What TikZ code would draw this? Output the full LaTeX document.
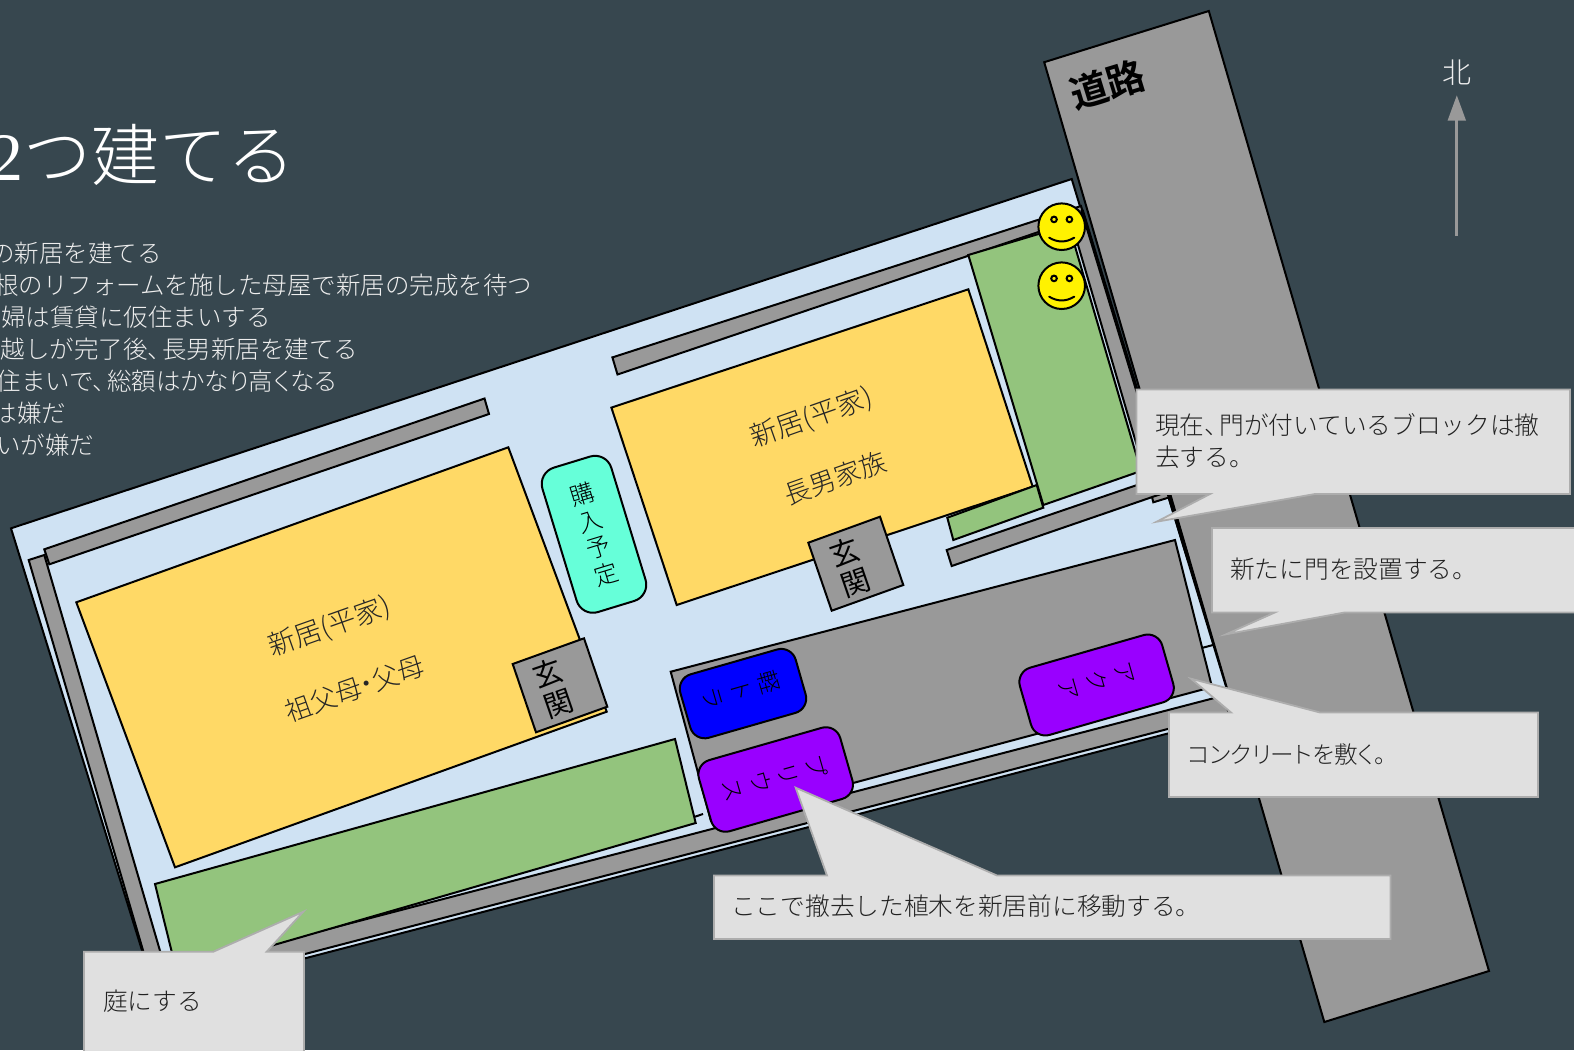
\documentclass[tikz,border=0pt]{standalone}
\usepackage{fontspec}
\newfontfamily\jp{Noto Sans CJK JP Light}
\newfontfamily\jpp[RawFeature=+palt]{Noto Sans CJK JP Light}
\newfontfamily\jpb[RawFeature=+palt]{Noto Sans CJK JP}
\newfontfamily\jpbold[RawFeature=+palt]{Noto Sans CJK JP Bold}
\newfontfamily\lat{Liberation Serif}
\definecolor{bgc}{HTML}{37474F}
\definecolor{lotc}{HTML}{CFE2F3}
\definecolor{wallc}{HTML}{999999}
\definecolor{greenc}{HTML}{93C47D}
\definecolor{housec}{HTML}{FFD966}
\definecolor{mintc}{HTML}{66FFD9}
\definecolor{purplec}{HTML}{9900FF}
\definecolor{callc}{HTML}{E0E0E0}
\definecolor{callb}{HTML}{ADADAD}
\definecolor{calltxt}{HTML}{222222}
\definecolor{listc}{HTML}{EEEEEE}
\newcommand{\js}[2]{\fontsize{#1}{#2}\selectfont\jp}
\newcommand{\jsp}[2]{\fontsize{#1}{#2}\selectfont\jpp}
\newcommand{\tb}{、\kern-10pt}
\tikzset{
  x=1pt,y=-1pt,
  shape1/.style={draw=black,line width=2pt,line join=miter},
  wallp/.style={shape1,fill=wallc},
  greenp/.style={shape1,fill=greenc},
  housep/.style={shape1,fill=housec},
  callp/.style={draw=callb,line width=1.8pt,fill=callc,line join=miter},
  calltext/.style={text=calltxt,anchor=west,inner sep=0pt,font=\js{24.7}{32}},
  listtext/.style={text=listc,anchor=east,inner sep=0pt,font=\js{24.5}{32}},
  housetext/.style={text=black!85,inner sep=0pt,rotate=19.5,font=\jsp{26.5}{30}},
  genkantext/.style={inner sep=0pt,align=center,text=black,font={\fontsize{29}{32}\selectfont\jpb}},
  car/.style={draw=black,line width=2pt,rounded corners=15pt,rotate=16,inner sep=0pt},
  cartext/.style={inner sep=0pt,align=center,text=black,rotate=-74,font=\js{23}{29}},
  smileface/.style={draw=black,line width=2pt,fill=yellow},
}
\newcommand{\smiley}[2]{%
  \path[smileface] (#1,#2) circle[radius=23.3];
  \path[smileface] (#1-7.7,#2-7.3) circle[radius=2.8];
  \path[smileface] (#1+7.7,#2-7.3) circle[radius=2.8];
  \draw[line width=2pt,line cap=round] (#1-12.5,#2+11) .. controls (#1-4,#2+16) and (#1+4,#2+16) .. (#1+12.5,#2+11);
}
\begin{document}
\begin{tikzpicture}
\useasboundingbox (0,0) rectangle (1574,1050);
\clip (0,0) rectangle (1574,1050);
\fill[bgc] (0,0) rectangle (1574,1050);
% road
\draw[wallp] (1044.2,62.2) -- (1208.8,11) -- (1489,971) -- (1324.3,1022) -- cycle;
\node[inner sep=0pt,rotate=17,font={\fontsize{38}{40}\selectfont\jpbold}] (road) at (1107.5,85) {道路};
% lot
\draw[shape1,fill=lotc] (11,528.3) -- (1071.7,179) -- (1235,716) -- (156.5,997) -- cycle;
% left and bottom wall
\draw[wallp] (28.7,560) -- (44.3,555) -- (166,971.3) -- (1222,696) -- (1229,713) -- (155.5,993) -- cycle;
% wall B
\draw[wallp] (44.3,549.3) -- (484.5,398.5) -- (489,414) -- (49.3,564.3) -- cycle;
% top and right wall
\draw[wallp] (612.4,357.4) -- (1081,206) -- (1169,495) -- (1170.5,497) -- (1153.3,502.3) -- (1152.3,498.3) -- (1071,221) -- (617.5,374.5) -- cycle;
\draw[line width=3.4pt] (1082,210) -- (1188.5,560);
% gate wall
\draw[wallp] (946.7,550) -- (1156.7,478.3) -- (1161,494) -- (951.7,566) -- cycle;
% green areas
\draw[greenp] (155,884) -- (675,739) -- (695.7,823) -- (177,973) -- cycle;
\draw[greenp] (968.3,255) -- (1068.7,225) -- (1141,471) -- (1043.3,505) -- cycle;
% short lines
\draw[line width=2pt] (695,816.7) -- (703,814);
\draw[line width=2pt] (1201.7,648) -- (1213,645);
% buildings
\draw[housep] (611.4,407.6) -- (968.3,289.3) -- (1032.7,486.7) -- (676.7,605) -- cycle;
\draw[greenp] (947.3,517.7) -- (1036.7,485) -- (1043.3,507.7) -- (953.3,540) -- cycle;
\draw[housep] (76.3,602.3) -- (508.3,447.3) -- (606.7,711.7) -- (175,867.3) -- cycle;
\node[housetext,font=\jsp{27.5}{30}] (h2a) at (812,418) {新居(平家)};
\node[housetext] (h2b) at (835.5,478) {長男家族};
\node[housetext,font=\jsp{27.5}{30}] (h1a) at (329.5,627) {新居(平家)};
\node[housetext] (h1b) at (354.5,688.5) {祖父母・父母};
% entrances
\draw[wallp] (808.3,542.7) -- (880,516.7) -- (903.3,585) -- (831.7,610.7) -- cycle;
\node[genkantext,rotate=19] (g2) at (850,567.5) {玄\\関};
\draw[wallp] (512.7,664) -- (584,638.3) -- (607.3,706.7) -- (536,732.3) -- cycle;
\node[genkantext,rotate=19] (g1) at (553.3,688.3) {玄\\関};
% purchase plot
\node[draw=black,line width=2pt,fill=mintc,rounded corners=17pt,rotate=17,minimum width=72pt,minimum height=151pt,inner sep=0pt,align=center,font=\js{24}{27.6}] (plot) at (594,534.3) {購\\入\\予\\定};
% concrete
\draw[wallp] (670.7,671.7) -- (1175,540) -- (1212,687) -- (711,821) -- cycle;
% cars
\node[car,fill=blue,minimum width=120pt,minimum height=66pt] (kei) at (743,693.6) {};
\node[cartext] (keit) at (741.7,690) {軽\\ト\\ラ};
\node[car,fill=purplec,minimum width=147pt,minimum height=74pt] (prius) at (775.7,779.5) {};
\node[cartext] (priust) at (775,778.3) {プ\\リ\\ウ\\ス};
\node[car,fill=purplec,minimum width=148pt,minimum height=70pt] (aqua) at (1096.6,685) {};
\node[cartext] (aquat) at (1096,681.5) {ア\\ク\\ア};
% people
\smiley{1061.7}{226.7}
\smiley{1061.7}{285.7}
% north arrow
\draw[wallc,line width=3.2pt] (1456.8,236) -- (1456.8,118);
\fill[wallc] (1456.8,95.4) -- (1466,120.5) -- (1447.6,120.5) -- cycle;
\node[text=listc,inner sep=0pt,font=\js{29}{30}] (north) at (1457,73) {北};
% callouts
\draw[callp] (1136.5,389.5) -- (1570,389.5) -- (1570,494) -- (1315,494) -- (1156.7,521.7) -- (1210,494) -- (1136.5,494) -- cycle;
\node[calltext,align=left] (c1) at (1155,441) {現在\tb 門が付いているブロックは撤\\去する。};
\draw[callp] (1212,528) -- (1590,528) -- (1590,612.4) -- (1345,612.4) -- (1226,634.3) -- (1275,612.4) -- (1212,612.4) -- cycle;
\node[calltext] (c2) at (1230,569.5) {新たに門を設置する。};
\draw[callp] (1169,712.5) -- (1231,712.5) -- (1191,678.7) -- (1320,712.5) -- (1538,712.5) -- (1538,797) -- (1169,797) -- cycle;
\node[calltext,font=\jsp{23.6}{32}] (c3) at (1187,755) {コンクリートを敷く。};
\draw[callp] (714,875.5) -- (827,875.5) -- (795.7,787.7) -- (997,875.5) -- (1390.5,875.5) -- (1390.5,939) -- (714,939) -- cycle;
\node[calltext] (c4) at (731,906.6) {ここで撤去した植木を新居前に移動する。};
\draw[callp] (84,951.7) -- (213.3,951.7) -- (303.3,911.7) -- (266.7,951.7) -- (304,951.7) -- (304,1060) -- (84,1060) -- cycle;
\node[calltext] (c5) at (103,1001.5) {庭にする};
% text
\node[text=white,anchor=east,inner sep=0pt,font=\js{68}{72}] (title) at (296,154.5) {{\lat 2}つ建てる};
\node[listtext] (l1) at (162,253) {の新居を建てる};
\node[listtext] (l2) at (532.5,285.5) {根のリフォームを施した母屋で新居の完成を待つ};
\node[listtext] (l3) at (271,317.5) {婦は賃貸に仮住まいする};
\node[listtext] (l4) at (358.5,349.5) {越しが完了後\tb 長男新居を建てる};
\node[listtext] (l5) at (336.5,381.5) {住まいで\tb {\jpp 総額はかなり高くなる}};
\node[listtext] (l6) at (66.5,413.5) {は嫌だ};
\node[listtext] (l7) at (94.5,445.5) {いが嫌だ};
\end{tikzpicture}
\end{document}
